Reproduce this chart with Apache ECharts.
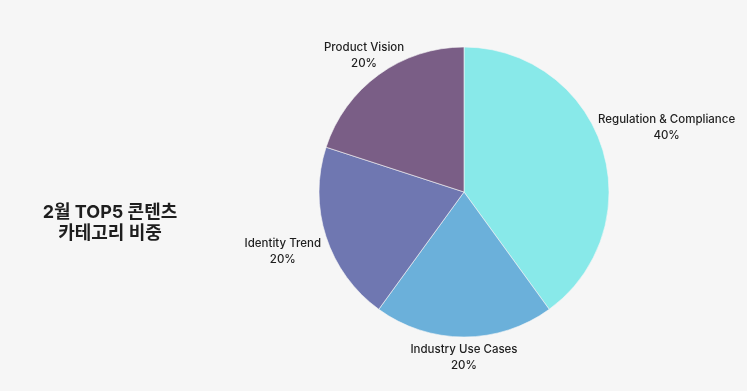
<!DOCTYPE html>
<html>
<head>
<meta charset="utf-8">
<script src="https://cdn.jsdelivr.net/npm/echarts@6/dist/echarts.min.js"></script>
<style>
html,body{margin:0;padding:0;background:#f6f6f6;}
#chart{width:747px;height:391px;}
</style>
</head>
<body>
<div id="chart"></div>
<script>
const categories = ['Regulation & Compliance', 'Industry Use Cases', 'Identity Trend', 'Product Vision'];
const values = [40, 20, 20, 20];
const colors = ['#88e9e9', '#6bb0da', '#6f77b1', '#7a5e86'];
const titleText = '2월 TOP5 콘텐츠\n카테고리 비중';

const CX = 464, CY = 192, R = 145, GAP = 4, LH = 16;
const LABEL_FONT = '500 11.5px Inter';
const total = values.reduce((a, b) => a + b, 0);
const ctx = document.createElement('canvas').getContext('2d');
ctx.font = LABEL_FONT;
function labelLines(i) {
  return [categories[i], Math.round(values[i] / total * 100) + '%'];
}
function midAngle(i) {
  let before = 0;
  for (let k = 0; k < i; k++) before += values[k];
  return (before + values[i] / 2) / total * Math.PI * 2;
}
function placeLabel(i) {
  const a = midAngle(i);
  const vx = Math.sin(a), vy = -Math.cos(a);
  const lines = labelLines(i);
  const widths = lines.map(s => ctx.measureText(s).width);
  const H = lines.length * LH;
  for (let t = R; t < R + 200; t += 0.5) {
    const cx = t * vx, cy = t * vy;
    let minD = Infinity;
    lines.forEach((s, k) => {
      const x0 = cx - widths[k] / 2, x1 = cx + widths[k] / 2;
      const y0 = cy - H / 2 + k * LH, y1 = y0 + LH;
      const nx = Math.min(Math.max(0, x0), x1);
      const ny = Math.min(Math.max(0, y0), y1);
      minD = Math.min(minD, Math.hypot(nx, ny));
    });
    if (minD >= R + GAP) return { x: CX + cx, y: CY + cy + 1 };
  }
  return { x: CX + (R + 40) * vx, y: CY + (R + 40) * vy };
}

const chart = echarts.init(document.getElementById('chart'), null, { renderer: 'canvas' });
chart.setOption({
  backgroundColor: '#f6f6f6',
  animation: false,
  title: {
    text: titleText,
    left: 105,
    top: 197,
    textAlign: 'center',
    textStyle: {
      fontFamily: 'Inter, "Noto Sans CJK KR", sans-serif',
      fontSize: 18,
      fontWeight: 'bold',
      lineHeight: 21,
      color: '#1e1e1e'
    }
  },
  series: [{
    type: 'pie',
    center: [CX, CY],
    radius: R,
    startAngle: 90,
    clockwise: true,
    data: categories.map((c, i) => ({ name: c, value: values[i], itemStyle: { color: colors[i] } })),
    itemStyle: { borderColor: '#f6f6f6', borderWidth: 0.6 },
    label: {
      show: true,
      position: 'outside',
      formatter: p => labelLines(p.dataIndex).join('\n'),
      fontFamily: 'Inter, sans-serif',
      fontSize: 11.5,
      fontWeight: 500,
      lineHeight: LH,
      color: '#1e1e1e',
      align: 'center',
      overflow: 'none',
      width: 300,
      bleedMargin: 0
    },
    labelLine: { show: false },
    labelLayout: function (params) {
      const p = placeLabel(params.dataIndex);
      return { x: p.x, y: p.y, align: 'center', verticalAlign: 'middle' };
    },
    emphasis: { disabled: true }
  }]
});
</script>
</body>
</html>
